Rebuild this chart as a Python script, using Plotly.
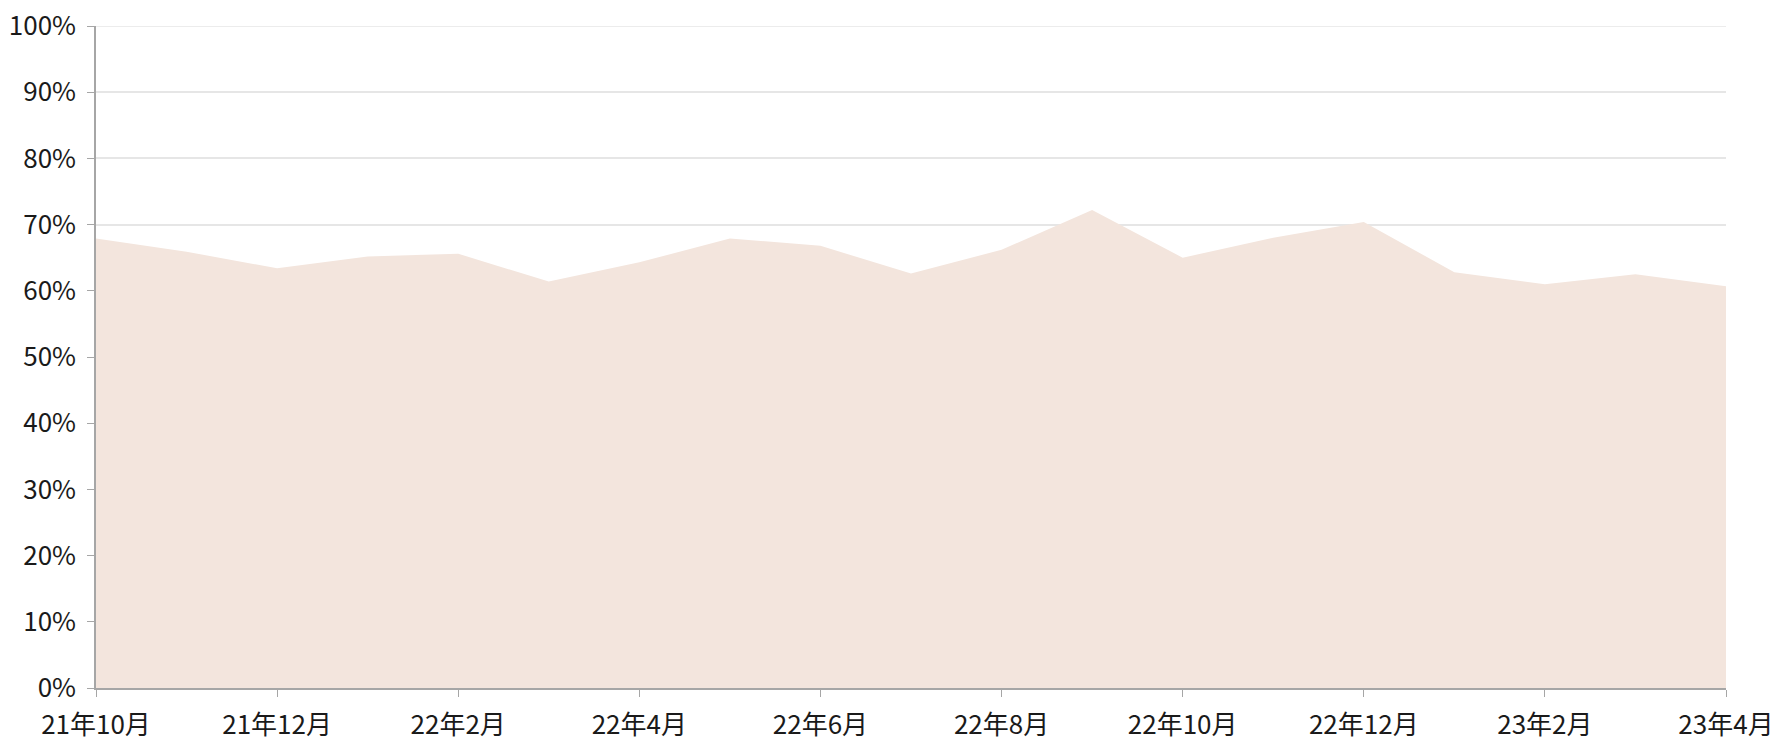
import plotly.graph_objects as go

months = ["21年10月", "21年11月", "21年12月", "22年1月", "22年2月", "22年3月", "22年4月",
          "22年5月", "22年6月", "22年7月", "22年8月", "22年9月", "22年10月", "22年11月",
          "22年12月", "23年1月", "23年2月", "23年3月", "23年4月"]
values = [67.9, 65.9, 63.4, 65.2, 65.6, 61.4, 64.3, 67.9, 66.8, 62.6, 66.2, 72.2,
          65.0, 68.0, 70.4, 62.8, 61.0, 62.5, 60.7]
y_ticks = [0, 10, 20, 30, 40, 50, 60, 70, 80, 90, 100]

x_idx = list(range(len(months)))
tick_idx = x_idx[::2]
tick_text = [months[i] for i in tick_idx]

fig = go.Figure()
fig.add_trace(go.Scatter(
    x=x_idx, y=values, mode="lines", fill="tozeroy",
    line=dict(width=0, color="#F3E5DD"), fillcolor="#F3E5DD",
    hoverinfo="skip", showlegend=False,
))
# top gridline (plotly omits the gridline at the range edge)
fig.add_hline(y=y_ticks[-1], line=dict(color="#E6E6E6", width=1.5), layer="below")

font_family = "Noto Sans CJK JP"
tick_font = dict(family=font_family, size=26, color="#1A1A1A")
# page body has an 8px margin, so the figure is 8px smaller and shifted
fig.update_layout(
    width=1770, height=730,
    margin=dict(l=88, r=52, t=18, b=50, autoexpand=False),
    paper_bgcolor="white", plot_bgcolor="white",
    font=dict(family=font_family, size=26, color="#1A1A1A"),
    showlegend=False,
)
fig.update_xaxes(
    range=[0, 18], tickmode="array", tickvals=tick_idx, ticktext=tick_text,
    showgrid=False, zeroline=False, automargin=False,
    showline=True, linecolor="#A6A6A6", linewidth=1.5,
    ticks="outside", ticklen=7, tickcolor="#A6A6A6", tickwidth=1,
    ticklabelstandoff=6, ticklabeloverflow="allow",
    tickfont=tick_font,
)
fig.update_yaxes(
    range=[0, 100], tickmode="array", tickvals=y_ticks,
    ticktext=[f"{v}%" for v in y_ticks],
    showgrid=True, gridcolor="#E6E6E6", gridwidth=1.5, zeroline=False, automargin=False,
    showline=True, linecolor="#A6A6A6", linewidth=1.5,
    ticks="outside", ticklen=7, tickcolor="#A6A6A6", tickwidth=1,
    ticklabelstandoff=6, ticklabeloverflow="allow",
    tickfont=tick_font,
)

fig.write_html("out.html")
